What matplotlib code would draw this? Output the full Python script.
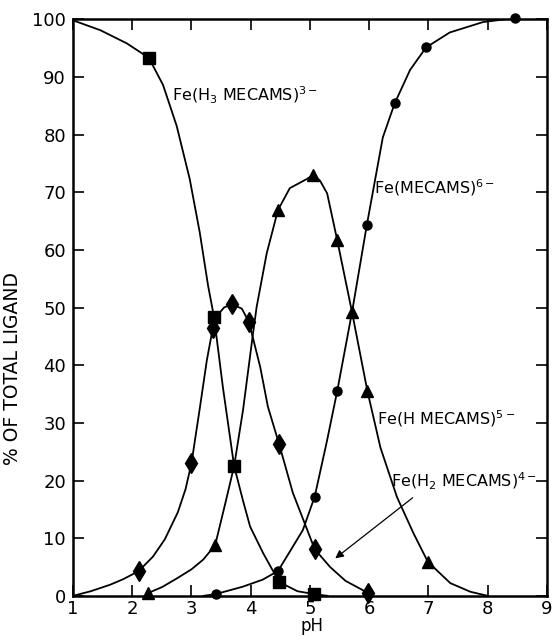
import matplotlib.pyplot as plt

# measured points (pH, % of total ligand)
sq_ph = [2.28, 3.38, 3.72, 4.48, 5.07]
sq_pct = [93.3, 48.4, 22.5, 2.4, 0.3]
dia_ph = [2.11, 3.0, 3.36, 3.68, 3.97, 4.48, 5.08, 5.98]
dia_pct = [4.3, 23.0, 46.4, 50.6, 47.5, 26.3, 8.1, 0.5]
tri_ph = [2.27, 3.40, 4.46, 5.05, 5.46, 5.71, 5.97, 6.99]
tri_pct = [0.5, 8.8, 66.9, 73.0, 61.7, 49.2, 35.5, 5.9]
cir_ph = [3.41, 4.46, 5.08, 5.46, 5.96, 6.43, 6.96, 8.46]
cir_pct = [0.3, 4.3, 17.2, 35.5, 64.3, 85.4, 95.1, 100.2]

# fitted curves
sq_curve_ph = [1.0, 1.46, 1.91, 2.28, 2.52, 2.75, 2.97, 3.14, 3.28, 3.38, 3.53, 3.72,
               3.87, 3.99, 4.21, 4.48, 4.79, 5.07, 5.3]
sq_curve_pct = [99.8, 98.1, 95.8, 93.3, 88.6, 81.5, 72.3, 63.0, 53.8, 48.4, 36.2, 22.5,
                16.5, 12.0, 7.4, 2.4, 0.8, 0.3, 0.0]
dia_curve_ph = [1.0, 1.3, 1.62, 1.85, 2.11, 2.35, 2.55, 2.77, 2.9, 3.0, 3.14, 3.26, 3.36,
                3.45, 3.55, 3.68, 3.85, 3.97, 4.16, 4.29, 4.48, 4.71, 5.08, 5.34, 5.6, 5.98]
dia_curve_pct = [0.0, 0.8, 1.9, 2.9, 4.3, 6.8, 9.8, 14.5, 18.5, 23.0, 32.5, 40.9, 46.4,
                 48.8, 50.0, 50.6, 49.8, 47.5, 39.7, 32.8, 26.3, 17.9, 8.1, 5.0, 2.6, 0.5]
tri_curve_ph = [2.27, 2.5, 2.75, 3.0, 3.2, 3.40, 3.57, 3.72, 3.87, 4.04, 4.1, 4.27, 4.46,
                4.66, 4.95, 5.05, 5.17, 5.29, 5.46, 5.71, 5.97, 6.19, 6.47, 6.75, 6.99,
                7.37, 7.71, 8.0]
tri_curve_pct = [0.5, 1.5, 3.0, 4.6, 6.3, 8.8, 16.0, 22.5, 32.2, 45.6, 50.1, 59.4, 66.9,
                 70.7, 72.3, 73.0, 72.0, 69.8, 61.7, 49.2, 35.5, 25.7, 17.1, 10.8, 5.9,
                 2.2, 0.7, 0.0]
cir_curve_ph = [3.2, 3.41, 3.87, 4.2, 4.46, 4.65, 4.88, 5.08, 5.29, 5.46, 5.71, 5.96, 6.23,
                6.43, 6.69, 6.96, 7.36, 7.92, 8.46, 8.95]
cir_curve_pct = [0.0, 0.3, 1.6, 2.8, 4.3, 7.5, 11.4, 17.2, 27.0, 35.5, 49.2, 64.3, 79.5,
                 85.4, 91.2, 95.1, 97.7, 99.5, 100.2, 100.2]

x_ticks = [1, 2, 3, 4, 5, 6, 7, 8, 9]
y_ticks = [0, 10, 20, 30, 40, 50, 60, 70, 80, 90, 100]

plt.rcParams['font.family'] = 'DejaVu Sans'
fig = plt.figure(figsize=(5.53, 6.40), dpi=100)
ax = fig.add_axes([0.132, 0.069, 0.857, 0.901])

lw = 1.3
ax.plot(sq_curve_ph, sq_curve_pct, color='black', lw=lw)
ax.plot(dia_curve_ph, dia_curve_pct, color='black', lw=lw)
ax.plot(tri_curve_ph, tri_curve_pct, color='black', lw=lw)
ax.plot(cir_curve_ph, cir_curve_pct, color='black', lw=lw)

ax.plot(sq_ph, sq_pct, 's', color='black', markersize=8, clip_on=False)
ax.plot(dia_ph, dia_pct, 'd', color='black', markersize=10, clip_on=False)
ax.plot(tri_ph, tri_pct, '^', color='black', markersize=9, clip_on=False)
ax.plot(cir_ph, cir_pct, 'o', color='black', markersize=6.5, clip_on=False)

ax.set_xlim(1, 9)
ax.set_ylim(0, 100)
ax.set_xticks(x_ticks)
ax.set_yticks(y_ticks)
ax.tick_params(direction='in', length=8, width=1.2, labelsize=13,
               top=True, right=True)
ax.tick_params(axis='x', pad=3)
ax.tick_params(axis='y', pad=5)
for s in ax.spines.values():
    s.set_linewidth(1.8)

ax.set_xlabel('pH', fontsize=12, labelpad=0)
ax.xaxis.set_label_coords(0.505, -0.037)
ax.set_ylabel('% OF TOTAL LIGAND', fontsize=13.5)
ax.yaxis.set_label_coords(-0.108, 0.395)

fs = 11.5
ax.text(2.67, 86.8, 'Fe(H$_3$ MECAMS)$^{3-}$', fontsize=fs, va='center')
ax.text(6.08, 70.8, 'Fe(MECAMS)$^{6-}$', fontsize=fs, va='center')
ax.text(6.13, 30.7, 'Fe(H MECAMS)$^{5-}$', fontsize=fs, va='center')
ax.text(6.37, 19.8, 'Fe(H$_2$ MECAMS)$^{4-}$', fontsize=fs, va='center')
ax.annotate('', xy=(5.39, 6.2), xytext=(6.77, 17.3),
            arrowprops=dict(arrowstyle='-|>', color='black', lw=0.9,
                            mutation_scale=12))

fig.savefig('out.png', dpi=100)
